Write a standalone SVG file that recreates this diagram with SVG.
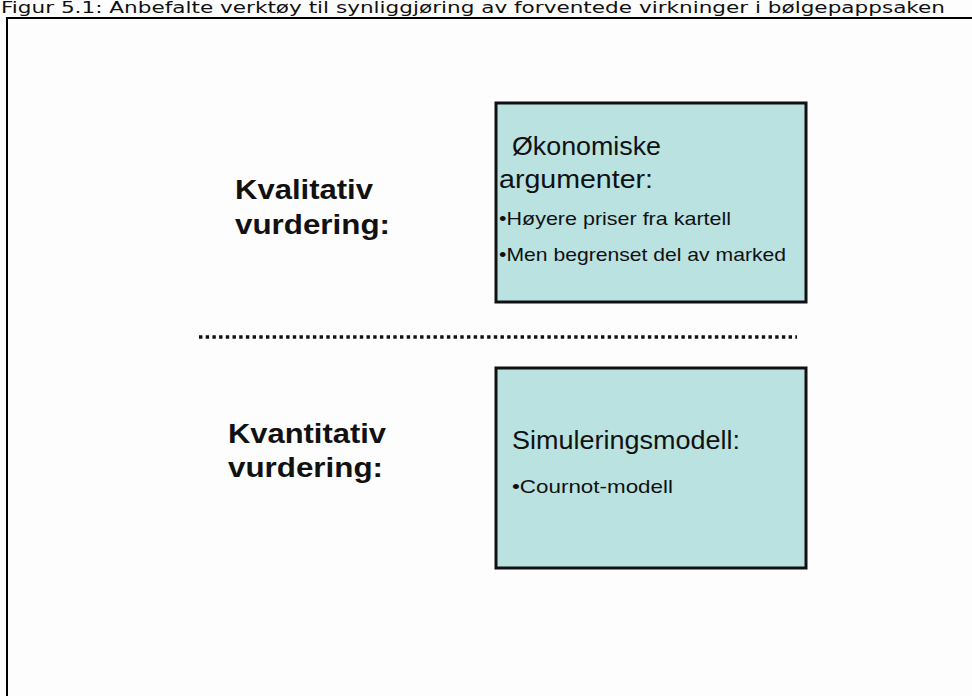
<svg xmlns="http://www.w3.org/2000/svg" width="972" height="696" viewBox="0 0 972 696">
  <style>
    .title { font-family: "DejaVu Sans", "Liberation Sans", sans-serif; font-size: 15px; fill: #111; }
    .label { font-family: "Liberation Sans", Arial, sans-serif; font-weight: bold; font-size: 28px; fill: #111; }
    .box { fill: #b9e2e1; stroke: #111; stroke-width: 3; }
    .head { font-family: "Liberation Sans", Arial, sans-serif; font-size: 25px; fill: #111; }
    .item { font-family: "Liberation Sans", Arial, sans-serif; font-size: 19px; fill: #111; }
    .frame { stroke: #000; stroke-width: 2; fill: none; }
    .sep { stroke: #111; stroke-width: 3.5; stroke-dasharray: 3.4 3.3; fill: none; }
  </style>

  <rect x="0" y="0" width="972" height="696" fill="#fdfdfd"/>

  <!-- caption above the frame -->
  <text class="title" x="1" y="13" textLength="944" lengthAdjust="spacingAndGlyphs">Figur 5.1: Anbefalte verktøy til synliggjøring av forventede virkninger i bølgepappsaken</text>

  <!-- figure frame -->
  <path class="frame" d="M7 696 V18 H972"/>

  <!-- row labels -->
  <g id="label-kvalitativ">
    <text class="label" x="235" y="199" textLength="138" lengthAdjust="spacingAndGlyphs">Kvalitativ</text>
    <text class="label" x="235" y="234" textLength="155" lengthAdjust="spacingAndGlyphs">vurdering:</text>
  </g>
  <g id="label-kvantitativ">
    <text class="label" x="228" y="443" textLength="158" lengthAdjust="spacingAndGlyphs">Kvantitativ</text>
    <text class="label" x="228" y="477" textLength="155" lengthAdjust="spacingAndGlyphs">vurdering:</text>
  </g>

  <!-- qualitative box -->
  <g id="box-okonomiske">
    <rect class="box" x="496" y="103" width="310" height="199"/>
    <text class="head" x="512" y="155" textLength="149" lengthAdjust="spacingAndGlyphs">Økonomiske</text>
    <text class="head" x="499" y="188" textLength="154" lengthAdjust="spacingAndGlyphs">argumenter:</text>
    <text class="item" x="499" y="225" textLength="232" lengthAdjust="spacingAndGlyphs">•Høyere priser fra kartell</text>
    <text class="item" x="499" y="261" textLength="287" lengthAdjust="spacingAndGlyphs">•Men begrenset del av marked</text>
  </g>

  <!-- quantitative box -->
  <g id="box-simulering">
    <rect class="box" x="496" y="368" width="310" height="200"/>
    <text class="head" x="512" y="449" textLength="228" lengthAdjust="spacingAndGlyphs">Simuleringsmodell:</text>
    <text class="item" x="512" y="493" textLength="161" lengthAdjust="spacingAndGlyphs">•Cournot-modell</text>
  </g>

  <!-- dotted divider between the two rows -->
  <g id="connectors">
    <path class="sep" d="M199 337 H797"/>
  </g>
</svg>
